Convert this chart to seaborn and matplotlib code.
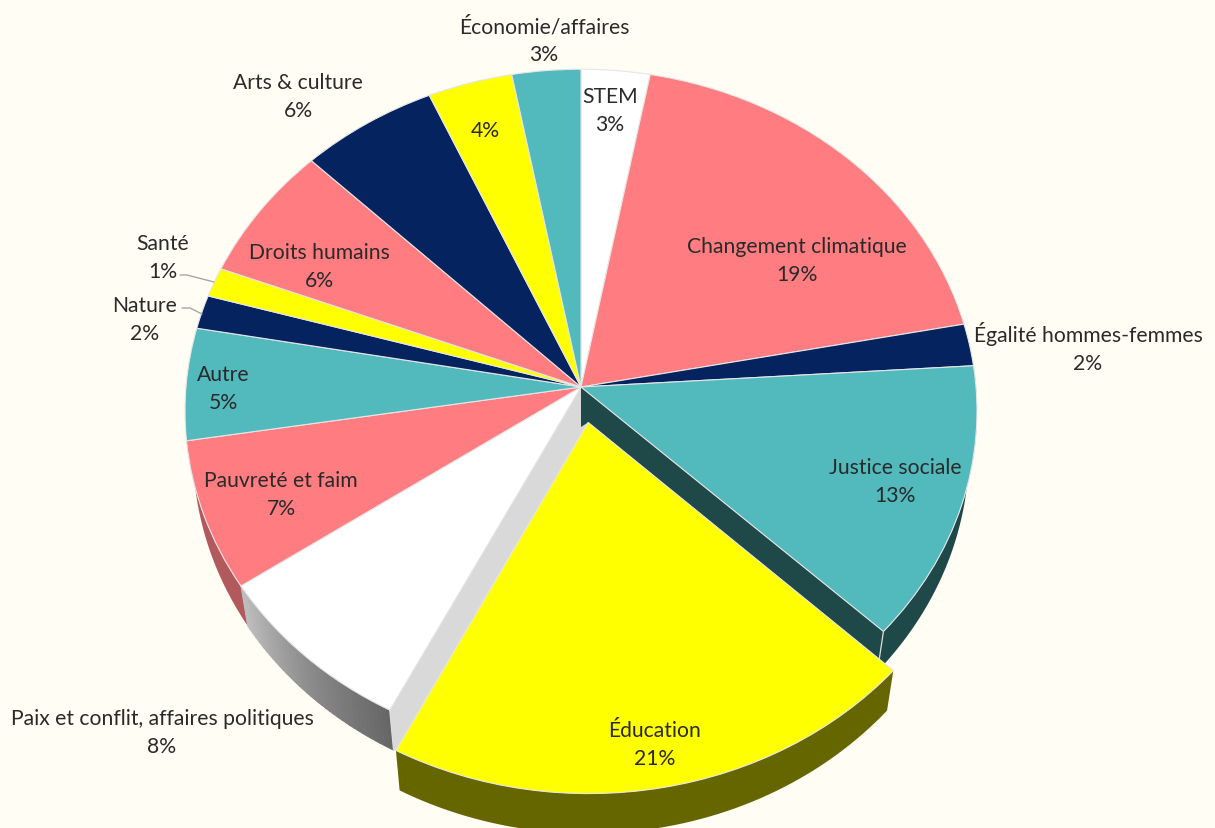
import numpy as np
import matplotlib
matplotlib.use("Agg")
import matplotlib.pyplot as plt
from matplotlib.transforms import Transform
import seaborn as sns

# ---- data ----
names = ["STEM", "Changement climatique", "Égalité hommes-femmes", "Justice sociale",
         "Éducation", "Paix et conflit, affaires politiques", "Pauvreté et faim", "Autre",
         "Nature", "Santé", "Droits humains", "Arts & culture", "", "Économie/affaires"]
shares = [3.0, 19.0, 2.0, 13.0, 20.5, 8.0, 7.0, 5.3, 1.6, 1.4, 6.5, 6.0, 3.7, 3.0]
percents = [3, 19, 2, 13, 21, 8, 7, 5, 2, 1, 6, 6, 4, 3]

# ---- style ----
PINK, NAVY, TEAL, YELLOW, WHITE = "#FF7C80", "#04235F", "#52B9BC", "#FFFF00", "#FFFFFF"
colors = [WHITE, PINK, NAVY, TEAL, YELLOW, WHITE, PINK, TEAL, NAVY, YELLOW, PINK, NAVY, YELLOW, TEAL]
explode = [0, 0, 0, 0, 0.105, 0, 0, 0, 0, 0, 0, 0, 0, 0]
label_xy = [(610, 111), (797, 261), (1088, 348), (895, 482), (655, 745), (162, 733), (281, 495),
            (223, 389), (145, 320), (163, 258), (319, 267), (298, 97), (485, 131), (544, 41)]
BG = "#FFFDF4"
INK = "#2A2A2A"
CX, CY, RX, RY, K = 581.0, 388.0, 395.0, 340.0, 0.07
DEPTH, SHRINK = 40.0, 0.98

sns.set_theme(style="white")
plt.rcParams["font.family"] = ["Lato", "DejaVu Sans"]


class Tilt(Transform):
    """Perspective view of the unit-circle pie, output in figure pixels."""
    input_dims = output_dims = 2
    is_separable = False
    has_inverse = False

    def transform_non_affine(self, values):
        values = np.asarray(values, dtype=float)
        w = 1 + K * values[:, 1]
        return np.column_stack([CX + RX * values[:, 0] / w, CY - RY * values[:, 1] / w])


tilt = Tilt()


def lower(pts):
    pts = np.asarray(pts, dtype=float)
    return np.column_stack([CX + (pts[:, 0] - CX) * SHRINK, pts[:, 1] + DEPTH])


def rim(f0, f1, offset=(0.0, 0.0), n=60):
    t = 2 * np.pi * np.linspace(f0, f1, n) / 100
    return tilt.transform_non_affine(np.column_stack([np.sin(t) + offset[0], np.cos(t) + offset[1]]))


def wall(ax, f0, f1, color, zorder, offset=(0.0, 0.0), lw=0.0):
    top = rim(f0, f1, offset)
    ax.fill(np.r_[top[:, 0], lower(top)[::-1, 0]], np.r_[top[:, 1], lower(top)[::-1, 1]],
            facecolor=color, edgecolor=color, lw=lw, zorder=zorder)


fig = plt.figure(figsize=(12.15, 8.29), dpi=100, facecolor=BG)
ax = fig.add_axes([0, 0, 1, 1], facecolor=BG)

wedges, _ = ax.pie(shares, colors=colors, explode=explode, startangle=90, counterclock=False,
                   radius=1, wedgeprops=dict(edgecolor="#E6E6E6", linewidth=0.8))
ax.set_aspect("auto")
ax.set_xlim(0, 1215)
ax.set_ylim(829, 0)
ax.set_frame_on(False)
ax.set_xticks([])
ax.set_yticks([])
for w, e in zip(wedges, explode):
    w.set_transform(tilt + ax.transData)
    w.set_zorder(4 if e else 2)

edges = np.r_[0, np.cumsum(shares)]
edu, paix, pauv, just = 4, 5, 6, 3

# side walls behind the flat slices
wall(ax, edges[pauv], edges[pauv + 1], "#B2595D", 1)
wall(ax, edges[just], edges[just + 1], "#1F4849", 1)

steps = 40
shades = sns.blend_palette(["#BDBDBD", "#8C8C8C", "#666666"], steps)
fr = np.linspace(edges[paix], edges[paix + 1], steps + 1)
for a, b, shade in zip(fr[:-1], fr[1:], shades[::-1]):
    wall(ax, a, b, shade, 1.1, lw=0.7)

# offset of the exploded slice
t_mid = 2 * np.pi * (edges[edu] + edges[edu + 1]) / 200
off = (explode[edu] * np.sin(t_mid), explode[edu] * np.cos(t_mid))
edu_apex = tilt.transform_non_affine(np.array([off]))

# cut faces left open by the exploded slice
apex = np.array([[CX, CY]])
for frac, col in [(edges[edu + 1], "#D9D9D9"), (edges[just + 1], "#1F4849")]:
    p = rim(frac, frac, n=1)
    q = rim(frac, frac, off, n=1)
    quad = np.vstack([apex, p, lower(p), q, edu_apex, lower(apex)])
    ax.fill(quad[:, 0], quad[:, 1], color=col, lw=0, zorder=1.3)
    ax.plot(np.r_[p[0, 0], lower(p)[0, 0]], np.r_[p[0, 1], lower(p)[0, 1]],
            color="#DDDDDD", lw=0.9, zorder=1.5)

# front wall of the exploded slice
wall(ax, edges[edu], edges[edu + 1], "#666600", 3, off)

# labels
for name, pct, (x, y) in zip(names, percents, label_xy):
    txt = f"{name}\n{pct}%" if name else f"{pct}%"
    ax.text(x, y, txt, ha="center", va="center", fontsize=15.2, color=INK, linespacing=1.5, zorder=6)

# leader lines
ax.plot([180, 187, 214], [276, 276, 283], color="#A6A6A6", lw=1, zorder=5)
ax.plot([182, 190, 202], [309, 309, 315], color="#A6A6A6", lw=1, zorder=5)

fig.savefig("out.png", dpi=100, facecolor=BG)
